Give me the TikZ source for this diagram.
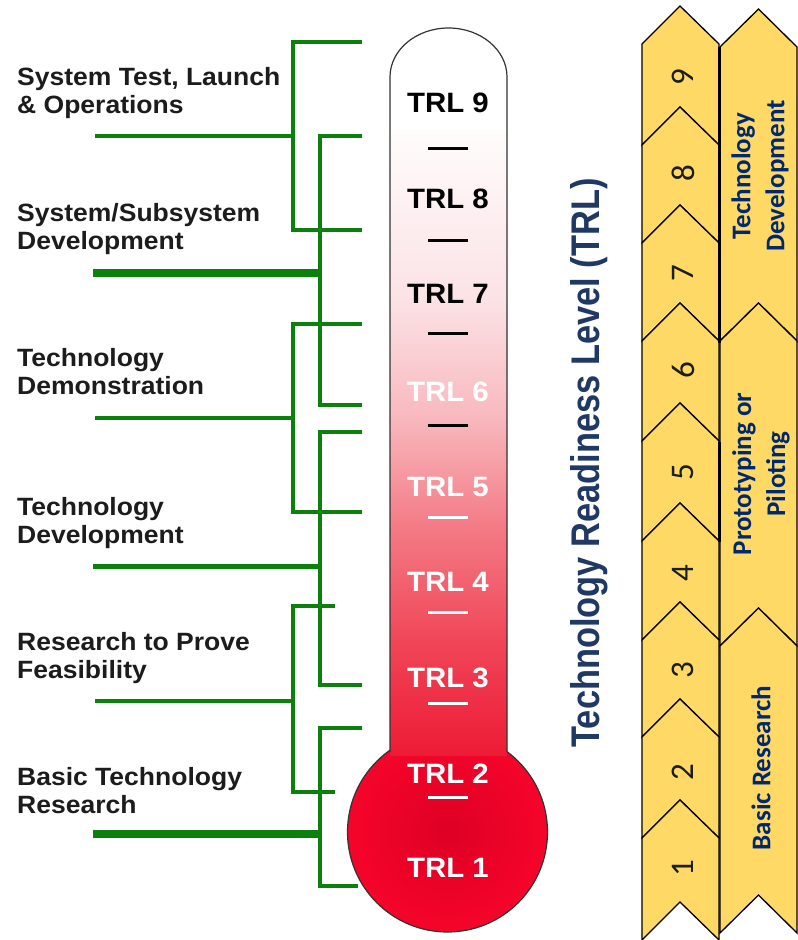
\documentclass[tikz,border=0pt]{standalone}
\usepackage{fontspec}
\setmainfont{Liberation Sans}
\newfontfamily\labfont[FakeStretch=1.06]{Liberation Sans}
\newfontfamily\trlfont[FakeStretch=1.05]{Liberation Sans}
\newfontfamily\ttlfont[FakeStretch=0.86]{Liberation Sans}
\newfontfamily\calfont{Carlito}
\definecolor{grn}{RGB}{12,128,12}
\definecolor{navy}{RGB}{31,56,100}
\definecolor{navyb}{RGB}{0,40,112}
\definecolor{chev}{RGB}{255,217,102}
\definecolor{txt}{RGB}{28,28,28}
\definecolor{bulbout}{RGB}{246,4,42}
\definecolor{bulbin}{RGB}{222,0,36}
\definecolor{tA}{RGB}{255,255,255}
\definecolor{tB}{RGB}{255,252,252}
\definecolor{tC}{RGB}{251,226,229}
\definecolor{tD}{RGB}{248,183,189}
\definecolor{tE}{RGB}{244,126,136}
\definecolor{tF}{RGB}{240,70,88}
\definecolor{tG}{RGB}{238,26,53}
\begin{document}
\begin{tikzpicture}[x=1pt,y=-1pt,
  lab/.style={inner sep=0pt, align=left, text=txt, font=\labfont\bfseries\fontsize{25}{28}\selectfont},
  trl/.style={inner sep=0pt, font=\trlfont\bfseries\fontsize{28}{30}\selectfont},
  num/.style={inner sep=0pt, rotate=90, text=txt, font=\calfont\fontsize{33}{35}\selectfont},
  phase/.style={inner sep=0pt, rotate=90, align=center, text=navyb, font=\calfont\bfseries\fontsize{27}{34}\selectfont},
  thin/.style={draw=grn, line width=3.5pt, line join=miter},
  stemthin/.style={draw=grn, line width=3.5pt},
  stemmid/.style={draw=grn, line width=5pt},
  stemthick/.style={draw=grn, line width=8pt},
  dashk/.style={line width=3pt},
  chevline/.style={draw=black, fill=chev, line width=1.3pt, line join=miter}
]
\useasboundingbox (0,0) rectangle (798,940);
\fill[white] (0,0) rectangle (798,940);

% ---------- left labels ----------
\node[lab, anchor=north west] (l1) at (17,67) {System Test, Launch\\\& Operations};
\node[lab, anchor=north west] (l2) at (17,203) {System/Subsystem\\Development};
\node[lab, anchor=north west] (l3) at (17,348) {Technology\\Demonstration};
\node[lab, anchor=north west] (l4) at (17,497) {Technology\\Development};
\node[lab, anchor=north west] (l5) at (17,632) {Research to Prove\\Feasibility};
\node[lab, anchor=north west] (l6) at (17,767) {Basic Technology\\Research};

% ---------- green brackets ----------
% A
\draw[thin] (362,42) -| (293,230) -- (362,230);
\draw[stemthin] (95,136) -- (293,136);
% B
\draw[thin] (362,136) -| (320,405) -- (362,405);
\draw[stemthick] (93,273) -- (320,273);
% C
\draw[thin] (362,324) -| (293,512) -- (362,512);
\draw[stemthin] (95,418) -- (293,418);
% D
\draw[thin] (362,432) -| (320,685) -- (362,685);
\draw[stemmid] (93,566) -- (320,566);
% E
\draw[thin] (335,606) -| (293,792) -- (335,792);
\draw[stemthin] (95,701) -- (293,701);
% F
\draw[thin] (362,728) -| (320,886) -- (358,886);
\draw[stemthick] (93,834) -- (320,834);

% ---------- thermometer ----------
\shade[inner color=bulbin, outer color=bulbout] (447.5,832) circle (100);
\draw[black!80, line width=1.2pt] (447.5,832) circle (100);
\begin{scope}
  \clip (390,756) -- (390,77) arc[start angle=180, end angle=360, x radius=58.5, y radius=49] -- (507,756) -- cycle;
  \fill[tA] (385,20) rectangle (512,131);
  \shade[top color=tB, bottom color=tC] (385,130) rectangle (512,301);
  \shade[top color=tC, bottom color=tD] (385,300) rectangle (512,421);
  \shade[top color=tD, bottom color=tE] (385,420) rectangle (512,521);
  \shade[top color=tE, bottom color=tF] (385,520) rectangle (512,641);
  \shade[top color=tF, bottom color=tG] (385,640) rectangle (512,757);
\end{scope}
\draw[black!80, line width=1.2pt] (390,752) -- (390,77) arc[start angle=180, end angle=360, x radius=58.5, y radius=49] -- (507,752);

\node[trl, text=black] (t9) at (448,103) {TRL 9};
\node[trl, text=black] (t8) at (448,199) {TRL 8};
\node[trl, text=black] (t7) at (448,294) {TRL 7};
\node[trl, text=white] (t6) at (448,392) {TRL 6};
\node[trl, text=white] (t5) at (448,487) {TRL 5};
\node[trl, text=white] (t4) at (448,582) {TRL 4};
\node[trl, text=white] (t3) at (448,678) {TRL 3};
\node[trl, text=white] (t2) at (448,774) {TRL 2};
\node[trl, text=white] (t1) at (448,868) {TRL 1};
\foreach \yy in {148,240,333,425}{\draw[dashk, black] (428,\yy) -- (468,\yy);}
\foreach \yy in {517,612,703,797}{\draw[dashk, white] (428,\yy) -- (468,\yy);}

% ---------- title ----------
\node[inner sep=0pt, rotate=90, text=navy, font=\ttlfont\bfseries\fontsize{40}{42}\selectfont] (ttl) at (589,463) {Technology Readiness Level (TRL)};

% ---------- chevrons column 1 ----------
\foreach \a/\b in {6/107,107/205,205/303,303/403,403/503,503/602,602/699,699/800,800/902}{
  \draw[chevline] (680,\a) -- (719,\a+38) -- (719,\b+38) -- (680,\b) -- (642,\b+38) -- (642,\a+38) -- cycle;
}
% ---------- chevrons column 2 ----------
\foreach \a/\b in {9/303,303/608,608/895}{
  \draw[chevline] (758.5,\a) -- (797,\a+38) -- (797,\b+38) -- (758.5,\b) -- (720,\b+38) -- (720,\a+38) -- cycle;
}
\draw[black, line width=3.5pt] (719.5,47) -- (719.5,343);
\draw[black, line width=3.5pt] (719.5,442) -- (719.5,542);

\node[num] (n9) at (683,77) {9};
\node[num] (n8) at (683,173) {8};
\node[num] (n7) at (683,273) {7};
\node[num] (n6) at (683,370) {6};
\node[num] (n5) at (683,472) {5};
\node[num] (n4) at (683,573) {4};
\node[num] (n3) at (683,670) {3};
\node[num] (n2) at (683,772) {2};
\node[num] (n1) at (683,868) {1};

\node[phase] (p3) at (760,176) {Technology\\Development};
\node[phase] (p2) at (761,474) {Prototyping or\\Piloting};
\node[phase] (p1) at (761,768) {Basic Research};
\end{tikzpicture}
\end{document}
